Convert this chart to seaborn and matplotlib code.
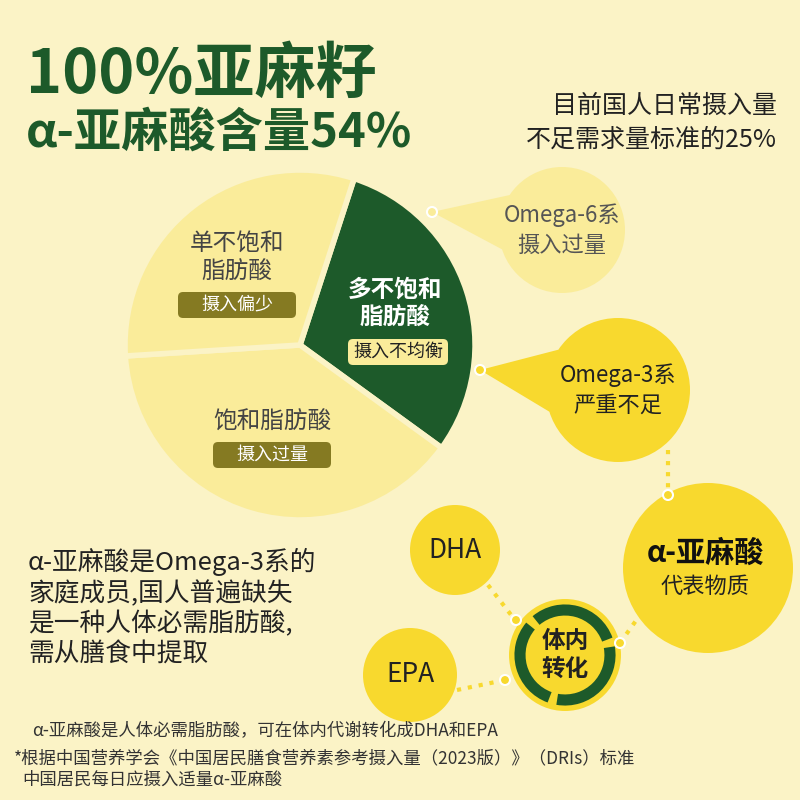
import matplotlib
matplotlib.use("Agg")
import matplotlib.pyplot as plt
import seaborn as sns
import numpy as np
from matplotlib.patches import Circle, Polygon, FancyBboxPatch, Arc

sns.set_theme(style="white")
plt.rcParams['font.family'] = ['Noto Sans CJK SC', 'DejaVu Sans']

categories = ["多不饱和\n脂肪酸", "饱和脂肪酸", "单不饱和\n脂肪酸"]
shares = [30, 39, 31]
tags = ["摄入不均衡", "摄入过量", "摄入偏少"]

BG = "#FBF3C6"; GREEN = "#1D5A2A"; PALE = "#FAEC9A"; YEL = "#F8D92E"; OLIVE = "#857A22"

fig = plt.figure(figsize=(8, 8), dpi=100, facecolor=BG)
ax = fig.add_axes([0, 0, 1, 1])
Y = lambda y: 800 - y

ax.pie(shares, colors=[GREEN, PALE, PALE], startangle=72, counterclock=False,
       center=(300, Y(345)), radius=175, explode=[0.06, 0, 0],
       wedgeprops=dict(edgecolor=BG, linewidth=4), frame=True)
ax.set_xlim(0, 800); ax.set_ylim(0, 800); ax.set_aspect('equal'); ax.axis('off')

ax.text(26, Y(75), "100%亚麻籽", fontsize=44, weight='bold', color=GREEN, va='center')
ax.text(26, Y(133), "α-亚麻酸含量54%", fontsize=34, weight='bold', color=GREEN, va='center')
ax.text(777, Y(106), "目前国人日常摄入量", fontsize=18, color='#222', ha='right', va='center')
ax.text(777, Y(140), "不足需求量标准的25%", fontsize=18, color='#222', ha='right', va='center')

def pill(x, y, w, h, fc, text, tc, fs=13):
    ax.add_patch(FancyBboxPatch((x - w/2, Y(y) - h/2), w, h, boxstyle="round,pad=0,rounding_size=5",
                                fc=fc, ec='none'))
    ax.text(x, Y(y), text, fontsize=fs, color=tc, ha='center', va='center')

ax.text(395, Y(303), categories[0], fontsize=17, color='white', weight='bold', ha='center', va='center', linespacing=1.2)
pill(398, 352, 100, 26, PALE, tags[0], '#222')
ax.text(272, Y(422), categories[1], fontsize=17, color='#444', ha='center', va='center')
pill(272, 455, 118, 26, OLIVE, tags[1], 'white')
ax.text(237, Y(258), categories[2], fontsize=17, color='#444', ha='center', va='center', linespacing=1.2)
pill(237, 305, 118, 26, OLIVE, tags[2], 'white')

def dot(x, y):
    ax.add_patch(Circle((x, Y(y)), 5, fc=YEL, ec='white', lw=1.5, zorder=5))

def bubble(cx, cy, r, fc, tip, text, fs, tc='#222'):
    ang = np.arctan2(Y(tip[1]) - Y(cy), tip[0] - cx)
    p1 = (cx + r*np.cos(ang + 0.45), Y(cy) + r*np.sin(ang + 0.45))
    p2 = (cx + r*np.cos(ang - 0.45), Y(cy) + r*np.sin(ang - 0.45))
    ax.add_patch(Polygon([p1, (tip[0], Y(tip[1])), p2, (cx, Y(cy))], fc=fc, ec='none'))
    ax.add_patch(Circle((cx, Y(cy)), r, fc=fc, ec='none'))
    ax.add_patch(Circle((tip[0], Y(tip[1])), 5, fc=fc, ec='white', lw=1.5))
    ax.text(cx, Y(cy), text, fontsize=fs, ha='center', va='center', color=tc, linespacing=1.35)

bubble(562, 230, 63, PALE, (432, 212), "Omega-6系\n摄入过量", 16, tc='#555')
bubble(618, 390, 72, YEL, (480, 370), "Omega-3系\n严重不足", 16)
ax.plot([668, 668], [Y(450), Y(495)], ls=':', color=YEL, lw=3)
dot(668, 495)
ax.add_patch(Circle((708, Y(568)), 85, fc=YEL, ec='none'))
ax.text(705, Y(553), "α-亚麻酸", fontsize=21, weight='bold', ha='center', va='center', color='#111')
ax.text(705, Y(586), "代表物质", fontsize=16, ha='center', va='center', color='#222')

ax.add_patch(Circle((455, Y(550)), 45, fc=YEL, ec='none'))
ax.text(455, Y(550), "DHA", fontsize=19, ha='center', va='center', color='#222')
ax.add_patch(Circle((410, Y(675)), 47, fc=YEL, ec='none'))
ax.text(410, Y(675), "EPA", fontsize=19, ha='center', va='center', color='#222')
for xs, ys in [([488, 515], [585, 620]), ([457, 505], [690, 680]), ([620, 640], [643, 615])]:
    ax.plot(xs, [Y(v) for v in ys], ls=':', color=YEL, lw=3)
dot(516, 620); dot(505, 680); dot(620, 643)
ax.add_patch(Circle((565, Y(655)), 56, fc=YEL, ec='none'))
for t1, t2 in [(20, 130), (140, 250), (260, 370)]:
    ax.add_patch(Arc((565, Y(655)), 90, 90, theta1=t1, theta2=t2, color=GREEN, lw=8))
ax.text(565, Y(655), "体内\n转化", fontsize=17, weight='bold', ha='center', va='center', color='#222', linespacing=1.2)

ax.text(28, Y(608), "α-亚麻酸是Omega-3系的\n家庭成员,国人普遍缺失\n是一种人体必需脂肪酸,\n需从膳食中提取",
        fontsize=18.5, color='#222', va='center', linespacing=1.2)
ax.text(32, Y(731), "α-亚麻酸是人体必需脂肪酸，可在体内代谢转化成DHA和EPA", fontsize=12.5, color='#333', va='center')
ax.text(14, Y(758), "*根据中国营养学会《中国居民膳食营养素参考摄入量（2023版）》（DRIs）标准", fontsize=12.5, color='#333', va='center')
ax.text(22, Y(780), "中国居民每日应摄入适量α-亚麻酸", fontsize=12.5, color='#333', va='center')

fig.savefig("out.png", dpi=100, facecolor=BG)
